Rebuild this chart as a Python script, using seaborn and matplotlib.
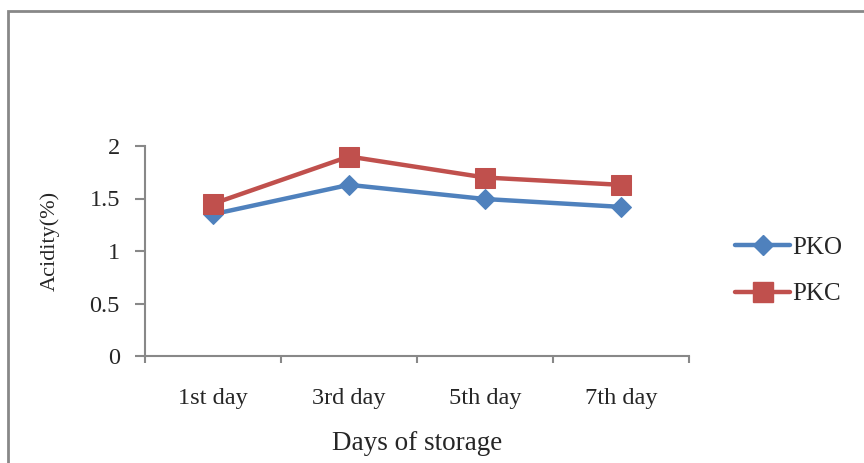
import matplotlib
matplotlib.use("Agg")
import matplotlib.pyplot as plt
import matplotlib.patches as mpatches
from matplotlib.lines import Line2D
import seaborn as sns
import pandas as pd

days = ["1st day", "3rd day", "5th day", "7th day"]
pko = [1.35, 1.63, 1.495, 1.42]
pkc = [1.45, 1.90, 1.70, 1.63]
series_names = ["PKO", "PKC"]
yticks = [0, 0.5, 1, 1.5, 2]
ytick_labels = ["0", "0.5", "1", "1.5", "2"]

sns.set_theme(style="white")
plt.rcParams['font.family'] = ['Liberation Serif', 'DejaVu Serif']

df = pd.DataFrame({
    "day": list(range(len(days))) * 2,
    "value": pko + pkc,
    "series": [series_names[0]] * len(days) + [series_names[1]] * len(days),
})

colors = {"PKO": "#4F81BD", "PKC": "#C0504D"}
markers = {"PKO": "D", "PKC": "s"}
msizes = {"PKO": 10, "PKC": 14}

fig = plt.figure(figsize=(8.64, 4.63), dpi=100)
ax = fig.add_axes([145/864, 1-356/463, (689-145)/864, (356-146)/463])

for name in series_names:
    sub = df[df.series == name]
    sns.lineplot(data=sub, x="day", y="value", ax=ax, color=colors[name],
                 marker=markers[name], markersize=msizes[name], linewidth=3.2,
                 markeredgecolor=colors[name], legend=False, zorder=3 if name == "PKC" else 2)

ax.set_xlim(-0.5, 3.5)
ax.set_ylim(0, 2)
ax.set_xticks(range(len(days)))
ax.set_xticklabels(days, fontsize=17.5)
ax.set_xticks([i - 0.5 for i in range(len(days) + 1)], minor=True)
ax.tick_params(axis="x", which="major", length=0, pad=23)
ax.tick_params(axis="x", which="minor", length=5, width=1.5, color="#888888", direction="out")
ax.set_yticks(yticks)
ax.set_yticklabels(ytick_labels, fontsize=17.5)
ax.tick_params(axis="y", length=7, width=1.5, color="#888888", direction="out", pad=11)
ax.xaxis.set_tick_params(bottom=True, which="minor")
ax.yaxis.set_tick_params(left=True)

for s in ["top", "right"]:
    ax.spines[s].set_visible(False)
for s in ["left", "bottom"]:
    ax.spines[s].set_color("#888888")
    ax.spines[s].set_linewidth(1.5)

ax.set_xlabel("Days of storage", fontsize=19.5, labelpad=16)
ax.set_ylabel("Acidity(%)", fontsize=16)
ax.yaxis.set_label_coords(-0.157, 0.55)
ax.grid(False)

handles = [Line2D([0], [0], color=colors[n], marker=markers[n], markersize=msizes[n],
                  linewidth=3.2, markeredgecolor=colors[n]) for n in series_names]
fig.legend(handles, series_names, loc="center left", bbox_to_anchor=(735/864, 1-271/463),
           frameon=False, fontsize=18, handlelength=2.2, handletextpad=0.1,
           labelspacing=0.95, borderpad=0, borderaxespad=0)

rect = mpatches.Rectangle((8/864, -0.2), 1.3, 1.2 - 11/463, transform=fig.transFigure,
                          fill=False, edgecolor="#888888", linewidth=2, clip_on=False)
fig.patches.append(rect)

fig.savefig("out.png", dpi=100)
